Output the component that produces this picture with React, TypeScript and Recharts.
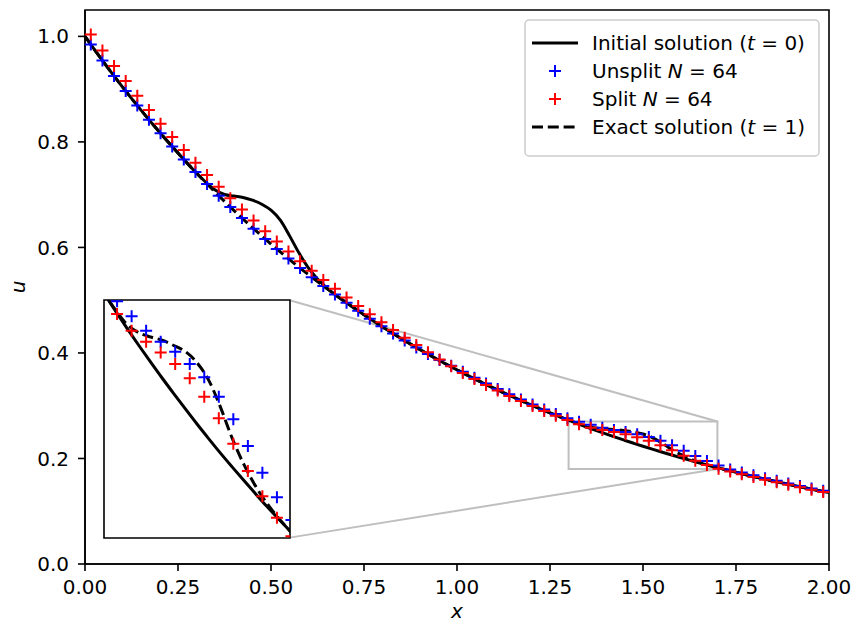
import {
  ComposedChart,
  Legend,
  Line,
  ReferenceArea,
  ReferenceLine,
  Scatter,
  XAxis,
  YAxis,
} from "recharts";

const FONT = "'DejaVu Sans', sans-serif";

// cell centres of the N = 64 grid
const cellX = [
  0.0156, 0.0469, 0.0781, 0.1094, 0.1406, 0.1719, 0.2031, 0.2344, 0.2656, 0.2969,
  0.3281, 0.3594, 0.3906, 0.4219, 0.4531, 0.4844, 0.5156, 0.5469, 0.5781, 0.6094,
  0.6406, 0.6719, 0.7031, 0.7344, 0.7656, 0.7969, 0.8281, 0.8594, 0.8906, 0.9219,
  0.9531, 0.9844, 1.0156, 1.0469, 1.0781, 1.1094, 1.1406, 1.1719, 1.2031, 1.2344,
  1.2656, 1.2969, 1.3281, 1.3594, 1.3906, 1.4219, 1.4531, 1.4844, 1.5156, 1.5469,
  1.5781, 1.6094, 1.6406, 1.6719, 1.7031, 1.7344, 1.7656, 1.7969, 1.8281, 1.8594,
  1.8906, 1.9219, 1.9531, 1.9844,
];

const unsplitU = [
  0.9845, 0.9542, 0.9249, 0.8964, 0.8688, 0.8421, 0.8162, 0.7911, 0.7667, 0.7431,
  0.7203, 0.6981, 0.6766, 0.6558, 0.6356, 0.6161, 0.5971, 0.5788, 0.5609, 0.5437,
  0.527, 0.5107, 0.495, 0.4798, 0.465, 0.4507, 0.4369, 0.4234, 0.4104, 0.3978,
  0.3865, 0.3757, 0.3642, 0.353, 0.3422, 0.3318, 0.3216, 0.3118, 0.3023, 0.293,
  0.2841, 0.2764, 0.2695, 0.2639, 0.2584, 0.2542, 0.2504, 0.2458, 0.2408, 0.2334,
  0.2249, 0.2148, 0.2047, 0.1954, 0.1868, 0.179, 0.1733, 0.168, 0.1627, 0.1576,
  0.1527, 0.1478, 0.1432, 0.1386,
];

const splitU = [
  1.0035, 0.9732, 0.9438, 0.9152, 0.8875, 0.8606, 0.8345, 0.8092, 0.7845, 0.7606,
  0.7374, 0.7149, 0.693, 0.6717, 0.651, 0.6309, 0.6114, 0.5924, 0.5739, 0.556,
  0.5385, 0.5216, 0.5051, 0.489, 0.4734, 0.4581, 0.4433, 0.4289, 0.4149, 0.4012,
  0.3878, 0.3748, 0.3622, 0.3505, 0.3392, 0.3288, 0.3186, 0.3088, 0.2993, 0.29,
  0.2811, 0.2729, 0.2647, 0.2584, 0.2542, 0.2501, 0.2458, 0.2404, 0.2334, 0.2253,
  0.2156, 0.2053, 0.1958, 0.1877, 0.1807, 0.1755, 0.1701, 0.1648, 0.1597, 0.1548,
  0.15, 0.1453, 0.1408, 0.1365,
];

const curveX = [
  0, 0.05, 0.1, 0.15, 0.2, 0.25, 0.3, 0.325, 0.35, 0.375, 0.4, 0.425, 0.45, 0.475,
  0.5, 0.525, 0.55, 0.575, 0.6, 0.625, 0.65, 0.675, 0.7, 0.75, 0.8, 0.85, 0.9, 0.95,
  1.0, 1.05, 1.1, 1.15, 1.2, 1.25, 1.3, 1.325, 1.35, 1.375, 1.4, 1.425, 1.45, 1.475,
  1.5, 1.525, 1.55, 1.575, 1.6, 1.625, 1.65, 1.675, 1.7, 1.75, 1.8, 1.85, 1.9, 1.95,
  2.0,
];

const initialU = [
  1.0, 0.9512, 0.9048, 0.8607, 0.8187, 0.7788, 0.7408, 0.7235, 0.7087, 0.7003,
  0.6973, 0.6948, 0.6896, 0.6819, 0.6705, 0.6516, 0.6219, 0.5897, 0.5618, 0.5403,
  0.5235, 0.5092, 0.4966, 0.4724, 0.4493, 0.4274, 0.4066, 0.3867, 0.3679, 0.3499,
  0.3329, 0.3166, 0.3012, 0.2865, 0.2725, 0.2658, 0.2592, 0.2528, 0.2466, 0.2405,
  0.2346, 0.2288, 0.2231, 0.2176, 0.2122, 0.207, 0.2019, 0.1969, 0.192, 0.1873,
  0.1827, 0.1738, 0.1653, 0.1572, 0.1496, 0.1423, 0.1353,
];

const exactU = [
  1.0, 0.9512, 0.9048, 0.8607, 0.8187, 0.7788, 0.7408, 0.7225, 0.7047, 0.6873,
  0.6703, 0.6538, 0.6376, 0.6219, 0.6065, 0.5916, 0.5769, 0.5627, 0.5488, 0.5353,
  0.522, 0.5092, 0.4966, 0.4724, 0.4493, 0.4274, 0.4066, 0.3867, 0.3679, 0.3499,
  0.3329, 0.3166, 0.3012, 0.2865, 0.2725, 0.2662, 0.2607, 0.2576, 0.256, 0.2548,
  0.2528, 0.2505, 0.2463, 0.2397, 0.2297, 0.218, 0.2081, 0.1999, 0.1932, 0.1876,
  0.1827, 0.1738, 0.1653, 0.1572, 0.1496, 0.1423, 0.1353,
];

const xTicks = [0, 0.25, 0.5, 0.75, 1, 1.25, 1.5, 1.75, 2];
const yTicks = [0, 0.2, 0.4, 0.6, 0.8, 1.0];

const initialData = curveX.map((x, i) => ({ x, u: initialU[i] }));
const exactData = curveX.map((x, i) => ({ x, u: exactU[i] }));
const unsplitData = cellX.map((x, i) => ({ x, u: unsplitU[i] }));
const splitData = cellX.map((x, i) => ({ x, u: splitU[i] }));

const plus = (color: string) => (props: any) => {
  const { cx, cy } = props;
  if (cx == null || cy == null) return <g />;
  return (
    <path
      d={`M${cx - 6},${cy}h12M${cx},${cy - 6}v12`}
      stroke={color}
      strokeWidth={2}
      fill="none"
    />
  );
};

const tickStyle = { fill: "#000", fontSize: 20, fontFamily: FONT };

const XLabel = ({ viewBox }: any) => (
  <text
    x={viewBox.x + viewBox.width / 2}
    y={618}
    textAnchor="middle"
    fontSize={20}
    fontFamily={FONT}
    fontStyle="italic"
  >
    x
  </text>
);

const YLabel = () => (
  <text
    x={25}
    y={287}
    transform="rotate(-90 25 287)"
    textAnchor="middle"
    fontSize={20}
    fontFamily={FONT}
    fontStyle="italic"
  >
    u
  </text>
);

const legendRows = [
  { kind: "line", pre: "Initial solution (", it: "t", post: " = 0)" },
  { kind: "blue", pre: "Unsplit ", it: "N", post: " = 64" },
  { kind: "red", pre: "Split ", it: "N", post: " = 64" },
  { kind: "dash", pre: "Exact solution (", it: "t", post: " = 1)" },
];

const LegendBox = () => (
  <svg width={296} height={138} style={{ display: "block" }}>
    <rect
      x={1}
      y={1}
      width={294}
      height={136}
      rx={4}
      fill="#fff"
      fillOpacity={0.8}
      stroke="#cccccc"
      strokeWidth={1.5}
    />
    {legendRows.map((r, i) => {
      const y = 24 + i * 28;
      return (
        <g key={i}>
          {r.kind === "line" && (
            <line x1={8} x2={54} y1={y} y2={y} stroke="#000" strokeWidth={3} />
          )}
          {r.kind === "dash" && (
            <line
              x1={8}
              x2={54}
              y1={y}
              y2={y}
              stroke="#000"
              strokeWidth={3}
              strokeDasharray="11 4.8"
            />
          )}
          {(r.kind === "blue" || r.kind === "red") && (
            <path
              d={`M${25},${y}h12M${31},${y - 6}v12`}
              stroke={r.kind === "blue" ? "#0000ff" : "#ff0000"}
              strokeWidth={2}
            />
          )}
          <text
            x={68}
            y={y}
            dominantBaseline="central"
            fontSize={20}
            fontFamily={FONT}
            fill="#000"
          >
            {r.pre}
            <tspan fontStyle="italic">{r.it}</tspan>
            {r.post}
          </text>
        </g>
      );
    })}
  </svg>
);

const Series = () => null;

const App = () => {
  return (
    <div
      style={{
        position: "absolute",
        left: 0,
        top: 0,
        width: 854,
        height: 622,
        background: "#fff",
      }}
    >
      <ComposedChart
        width={854}
        height={622}
        margin={{ top: 10, right: 25, left: 0, bottom: 0 }}
      >
        <XAxis
          dataKey="x"
          type="number"
          domain={[0, 2]}
          ticks={xTicks}
          tickFormatter={(v: number) => v.toFixed(2)}
          tick={tickStyle}
          tickSize={7}
          tickMargin={9}
          height={58}
          axisLine={{ stroke: "#000", strokeWidth: 1.6 }}
          tickLine={{ stroke: "#000", strokeWidth: 1.6 }}
          label={<XLabel />}
        />
        <YAxis
          type="number"
          domain={[0, 1.05]}
          ticks={yTicks}
          tickFormatter={(v: number) => v.toFixed(1)}
          tick={tickStyle}
          tickSize={7}
          tickMargin={9}
          width={85}
          axisLine={{ stroke: "#000", strokeWidth: 1.6 }}
          tickLine={{ stroke: "#000", strokeWidth: 1.6 }}
          label={<YLabel />}
        />
        <ReferenceArea
          x1={0}
          x2={2}
          y1={0}
          y2={1.05}
          fill="none"
          stroke="#000"
          strokeWidth={1.6}
          ifOverflow="visible"
        />
        <ReferenceArea
          x1={1.3}
          x2={1.7}
          y1={0.18}
          y2={0.27}
          fill="none"
          stroke="#bfbfbf"
          strokeWidth={2}
        />
        <ReferenceLine
          segment={[
            { x: 0.55, y: 0.5 },
            { x: 1.7, y: 0.27 },
          ]}
          stroke="#bfbfbf"
          strokeWidth={2}
          ifOverflow="visible"
        />
        <ReferenceLine
          segment={[
            { x: 0.55, y: 0.05 },
            { x: 1.7, y: 0.18 },
          ]}
          stroke="#bfbfbf"
          strokeWidth={2}
          ifOverflow="visible"
        />
        <Line
          data={initialData}
          dataKey="u"
          type="monotone"
          stroke="#000"
          strokeWidth={3}
          dot={false}
          isAnimationActive={false}
        />
        <Scatter
          data={unsplitData}
          dataKey="u"
          shape={plus("#0000ff")}
          isAnimationActive={false}
        />
        <Scatter
          data={splitData}
          dataKey="u"
          shape={plus("#ff0000")}
          isAnimationActive={false}
        />
        <Line
          data={exactData}
          dataKey="u"
          type="monotone"
          stroke="#000"
          strokeWidth={3}
          strokeDasharray="11 4.8"
          dot={false}
          isAnimationActive={false}
        />
        <Legend
          layout="horizontal"
          verticalAlign="middle"
          align="center"
          content={<LegendBox />}
          wrapperStyle={{ left: 524, top: 19, width: 296, height: 138 }}
        />
      </ComposedChart>

      <div
        style={{
          position: "absolute",
          left: 103,
          top: 299,
          width: 188,
          height: 240,
          background: "#fff",
        }}
      >
        <ComposedChart
          width={188}
          height={240}
          margin={{ top: 1, right: 1, left: 1, bottom: 1 }}
        >
          <XAxis
            dataKey="x"
            type="number"
            domain={[1.3, 1.7]}
            allowDataOverflow
            hide
            height={0}
          />
          <YAxis
            type="number"
            domain={[0.18, 0.27]}
            allowDataOverflow
            hide
            width={0}
          />
          <Line
            data={initialData}
            dataKey="u"
            type="monotone"
            stroke="#000"
            strokeWidth={3}
            dot={false}
            isAnimationActive={false}
          />
          <Scatter
            data={unsplitData}
            dataKey="u"
            shape={plus("#0000ff")}
            isAnimationActive={false}
          />
          <Scatter
            data={splitData}
            dataKey="u"
            shape={plus("#ff0000")}
            isAnimationActive={false}
          />
          <Line
            data={exactData}
            dataKey="u"
            type="monotone"
            stroke="#000"
            strokeWidth={3}
            strokeDasharray="11 4.8"
            dot={false}
            isAnimationActive={false}
          />
          <ReferenceArea
            x1={1.3}
            x2={1.7}
            y1={0.18}
            y2={0.27}
            fill="none"
            stroke="#000"
            strokeWidth={1.6}
            ifOverflow="visible"
          />
        </ComposedChart>
      </div>
    </div>
  );
};

export default App;
